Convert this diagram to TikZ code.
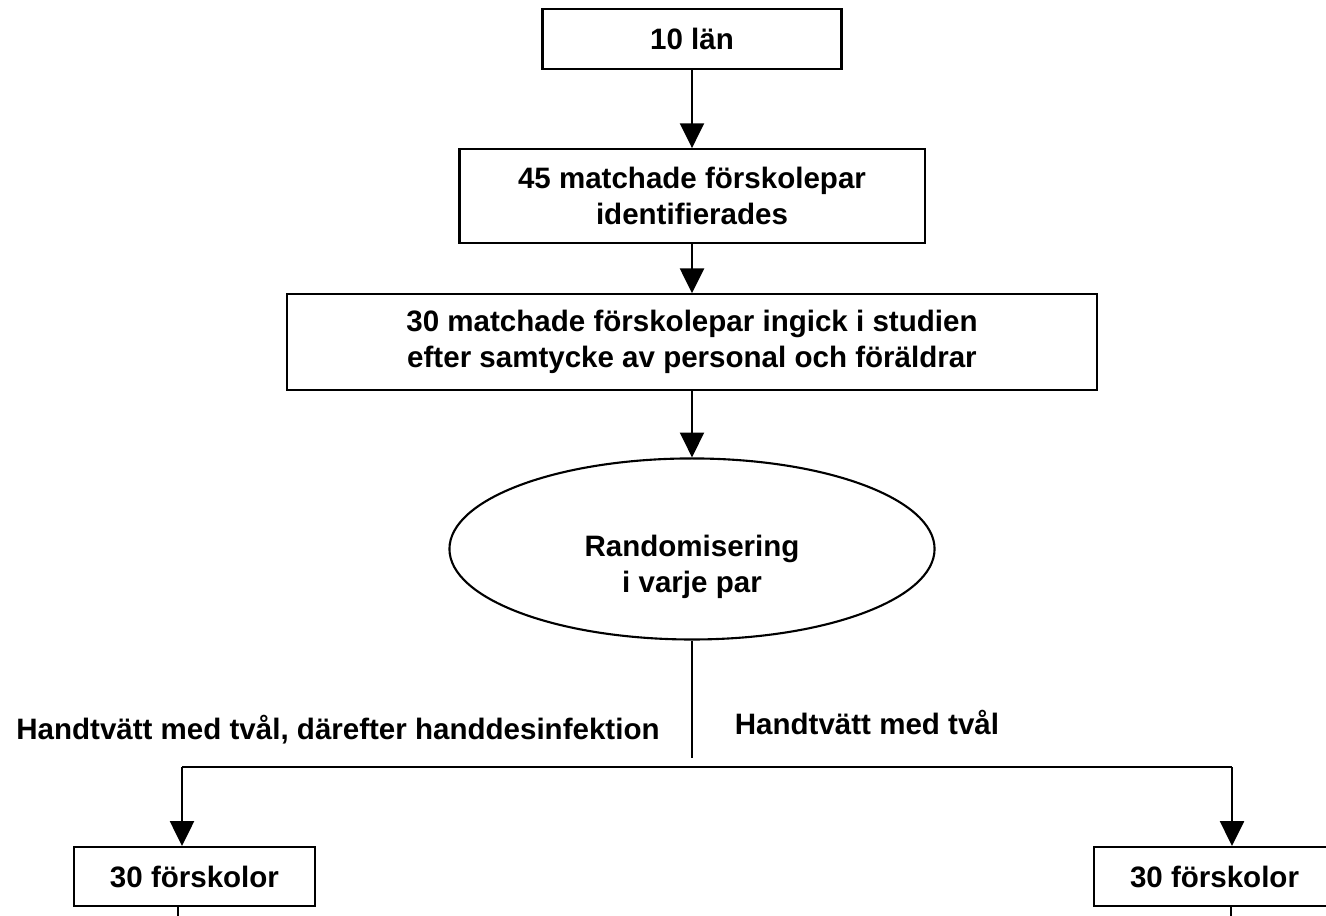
\documentclass[tikz,border=0pt]{standalone}
\usepackage{fontspec}
\setmainfont{Liberation Sans}
\usetikzlibrary{arrows.meta}
\usetikzlibrary{positioning}
\usetikzlibrary{shapes.geometric}

\begin{document}
\begin{tikzpicture}[x=0.025cm,y=-0.025cm,line width=1.5pt,
		font=\fontsize{21}{25.6}\selectfont\bfseries,
		box/.style={draw,rectangle,align=center,inner sep=0pt},
		arr/.style={-{Triangle[length=0.62cm,width=0.6cm]}}]
		\clip (0,0) rectangle (1326,915);

		\node [box,minimum width=7.475cm,minimum height=1.5cm] (lan) at (692,39) {10 län};
		\node [box,below=1.95cm of lan,minimum width=11.625cm,minimum height=2.35cm] (par45) {45 matchade förskolepar\\identifierades};
		\node [box,below=1.225cm of par45,minimum width=20.25cm,minimum height=2.4cm] (par30) {30 matchade förskolepar ingick i studien\\efter samtycke av personal och föräldrar};
		\node [draw,ellipse,below=1.65cm of par30,minimum width=12.125cm,minimum height=4.525cm] (rand) {};
		\node [align=center] (randtxt) at ([yshift=-0.45cm]rand.center) {Randomisering\\i varje par};

		\draw [arr] (lan) -- (par45);
		\draw [arr] (par45) -- (par30);
		\draw [arr] (par30) -- (rand);

		\coordinate (stem) at (0,758);
		\coordinate (bl) at (182,767);
		\coordinate (br) at (1232,767);
		\draw (rand.south) -- (rand.south |- stem);
		\draw (bl) -- (br);

		\node [box,minimum width=6.025cm,minimum height=1.475cm] (lbox) at (194.5,876.5) {30 förskolor};
		\node [box,minimum width=6.025cm,minimum height=1.475cm] (rbox) at (1214.5,876.5) {30 förskolor};

		\draw [arr] (bl) -- (bl |- lbox.north);
		\draw [arr] (br) -- (br |- rbox.north);

		\coordinate (lstub) at (178,925);
		\coordinate (rstub) at (1231,925);
		\draw (lstub |- lbox.south) -- (lstub);
		\draw (rstub |- rbox.south) -- (rstub);

		\node (armA) at (338,730) {Handtvätt med tvål, därefter handdesinfektion};
		\node (armB) at (867,722) {Handtvätt med tvål};
	\end{tikzpicture}
\end{document}
